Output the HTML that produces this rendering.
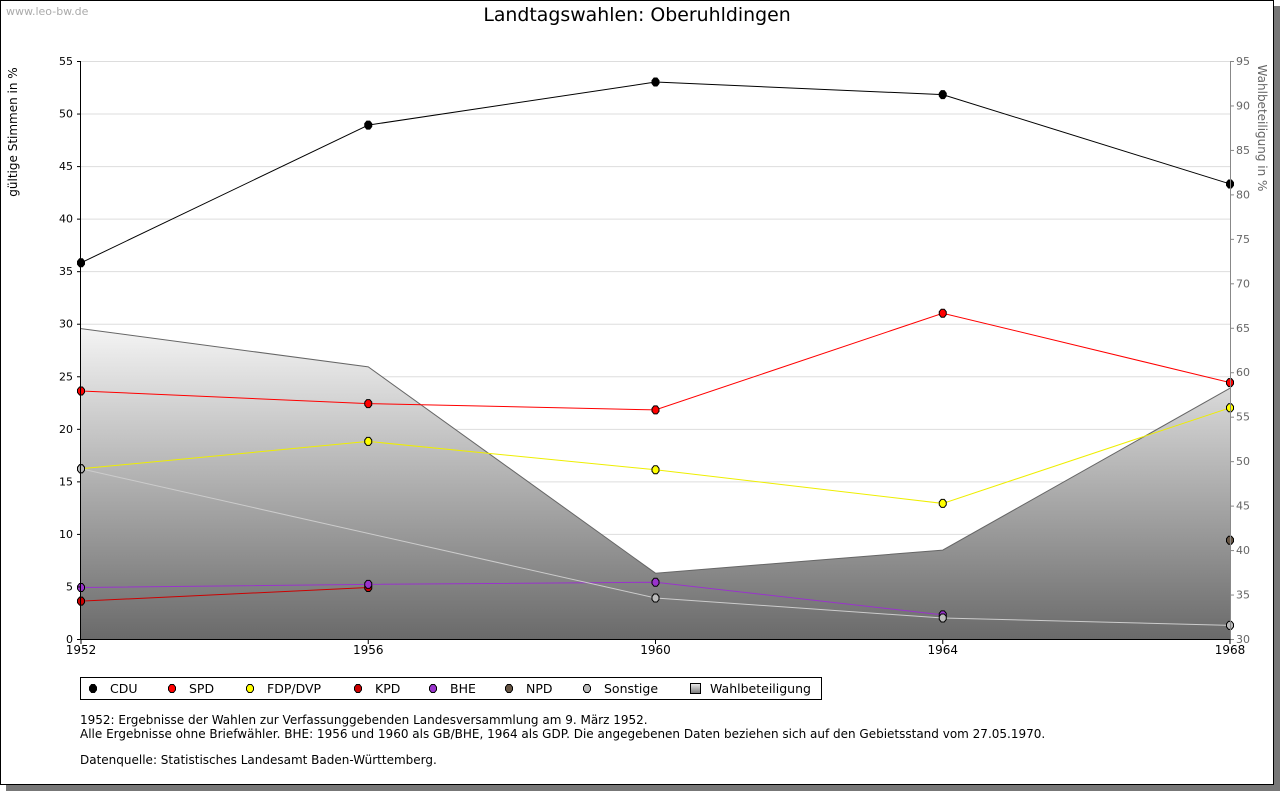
<!DOCTYPE html>
<html><head><meta charset="utf-8"><style>
body{margin:0;background:#fff;font-family:"DejaVu Sans",sans-serif;}
svg text{font-family:"DejaVu Sans",sans-serif;}
</style></head><body>
<svg id="c" width="1280" height="791" xmlns="http://www.w3.org/2000/svg">
<defs>
<linearGradient id="g" x1="0" y1="0" x2="0" y2="1"><stop offset="0" stop-color="#f4f4f4"/><stop offset="1" stop-color="#6a6a6a"/></linearGradient>
<linearGradient id="lg" x1="0" y1="0" x2="0" y2="1"><stop offset="0" stop-color="#eee"/><stop offset="1" stop-color="#777"/></linearGradient>
</defs>
<rect x="6" y="6" width="1274" height="785" fill="#777"/>
<rect x="0.5" y="0.5" width="1273" height="784" fill="#fff" stroke="#000"/>
<text x="6" y="15" font-size="11" fill="#aaa">www.leo-bw.de</text>
<text x="637" y="21" font-size="18.9" text-anchor="middle">Landtagswahlen: Oberuhldingen</text>
<text transform="translate(17,132) rotate(-90)" font-size="12" text-anchor="middle">gültige Stimmen in %</text>
<text transform="translate(1258,128) rotate(90)" font-size="12" fill="#666" text-anchor="middle">Wahlbeteiligung in %</text>
<g id="grid"></g><g id="area"></g><g id="lines"></g><g id="axes"></g>
<g>
<rect x="80.5" y="677.5" width="741" height="22" fill="#fff" stroke="#000"/>
<g id="leg"></g>
</g>
<g font-size="12">
<text x="80" y="724">1952: Ergebnisse der Wahlen zur Verfassunggebenden Landesversammlung am 9. März 1952.</text>
<text x="80" y="738">Alle Ergebnisse ohne Briefwähler. BHE: 1956 und 1960 als GB/BHE, 1964 als GDP. Die angegebenen Daten beziehen sich auf den Gebietsstand vom 27.05.1970.</text>
<text x="80" y="764">Datenquelle: Statistisches Landesamt Baden-Württemberg.</text>
</g>
</svg>
<script>
const years=[1952,1956,1960,1964,1968];
const cdu=[35.8,48.9,53.0,51.8,43.3];
const spd=[23.6,22.4,21.8,31.0,24.4];
const fdp=[16.2,18.8,16.1,12.9,22.0];
const kpd=[3.6,4.9,null,null,null];
const bhe=[4.9,5.2,5.4,2.3,null];
const npd=[null,null,null,null,9.4];
const sonst=[16.2,null,3.9,2.0,1.3];
const turnout=[64.9,60.6,37.4,40.0,58.2];
const leftTicks=[0,5,10,15,20,25,30,35,40,45,50,55];
const rightTicks=[30,35,40,45,50,55,60,65,70,75,80,85,90,95];
const NS="http://www.w3.org/2000/svg";
const X0=81,X1=1230,YT=61,YB=639;
const x=i=>X0+(X1-X0)*(years[i]-years[0])/(years[years.length-1]-years[0]);
const y=v=>YB-(v/55)*(YB-YT);
const y2=v=>YB-((v-30)/65)*(YB-YT);
function mk(t,a,p){const e=document.createElementNS(NS,t);for(const k in a)e.setAttribute(k,a[k]);p.appendChild(e);return e;}
const grid=document.getElementById('grid'),axes=document.getElementById('axes');
leftTicks.forEach(v=>{const g=mk('line',{x1:X0,x2:X1,y1:y(v)+.5,y2:y(v)+.5,stroke:'#ddd'},grid);

const t=mk('text',{x:X0-8,y:y(v)+4,'font-size':11,'text-anchor':'end'},axes);t.textContent=v;

mk('line',{x1:X0-4,x2:X0,y1:y(v)+.5,y2:y(v)+.5,stroke:'#000'},axes);});
rightTicks.forEach(v=>{const t=mk('text',{x:X1+6,y:y2(v)+4,'font-size':11,fill:'#666'},axes);t.textContent=v;

mk('line',{x1:X1,x2:X1+4,y1:y2(v)+.5,y2:y2(v)+.5,stroke:'#888'},axes);});
years.forEach((yr,i)=>{const t=mk('text',{x:x(i),y:YB+15,'font-size':12,'text-anchor':'middle'},axes);t.textContent=yr;

mk('line',{x1:x(i),x2:x(i),y1:YB,y2:YB+5,stroke:'#000'},axes);});
mk('line',{x1:X0-.5,x2:X0-.5,y1:YT,y2:YB,stroke:'#000'},axes);
mk('line',{x1:X1+.5,x2:X1+.5,y1:YT,y2:YB,stroke:'#888'},axes);
mk('line',{x1:X0,x2:X1,y1:YB+.5,y2:YB+.5,stroke:'#000'},axes);
let d='M'+x(0)+','+YB;turnout.forEach((v,i)=>d+=' L'+x(i)+','+y2(v));d+=' L'+x(4)+','+YB+' Z';
const ar=mk('path',{d:d,fill:'url(#g)',stroke:'none'},document.getElementById('area'));

const al=mk('polyline',{points:turnout.map((v,i)=>x(i)+','+y2(v)).join(' '),fill:'none',stroke:'#666'},document.getElementById('area'));

const series=[['cdu',cdu,'#000','#000'],['spd',spd,'#f00','#f00'],['fdp',fdp,'#ee0','#ff0'],['kpd',kpd,'#c00','#c00'],['bhe',bhe,'#93c','#93c'],['npd',npd,'#654','#654'],['sonstige',sonst,'#ccc','#bbb']];
const L=document.getElementById('lines');
function oct(cx,cy){return `M${cx-1.5},${cy-4} L${cx+1.5},${cy-4} L${cx+3.5},${cy-1.5} L${cx+3.5},${cy+1.5} L${cx+1.5},${cy+4} L${cx-1.5},${cy+4} L${cx-3.5},${cy+1.5} L${cx-3.5},${cy-1.5} Z`;}
series.forEach(([n,vals,lc,fc])=>{const pts=[];vals.forEach((v,i)=>{if(v!=null)pts.push([x(i),y(v)]);});
if(pts.length>1){const p=mk('polyline',{points:pts.map(q=>q.join(',')).join(' '),fill:'none',stroke:lc},L);
}
pts.forEach(q=>{const m=mk('path',{d:oct(q[0],q[1]),fill:fc,stroke:'#000','stroke-width':1},L);
});});
const leg=document.getElementById('leg');
const items=[['CDU','#000',93],['SPD','#f00',172],['FDP/DVP','#ff0',250],['KPD','#c00',358],['BHE','#93c',433],['NPD','#654',509],['Sonstige','#bbb',587]];
items.forEach(([t,c,lx])=>{const m=mk('path',{d:oct(lx,688.5),fill:c,stroke:'#000'},leg);

const tx=mk('text',{x:lx+17,y:693,'font-size':12.5},leg);tx.textContent=t;
});
const sq=mk('rect',{x:690.5,y:683.5,width:10,height:10,fill:'url(#lg)',stroke:'#000'},leg);

const wt=mk('text',{x:710,y:693,'font-size':12.5},leg);wt.textContent='Wahlbeteiligung';

</script>
</body></html>
